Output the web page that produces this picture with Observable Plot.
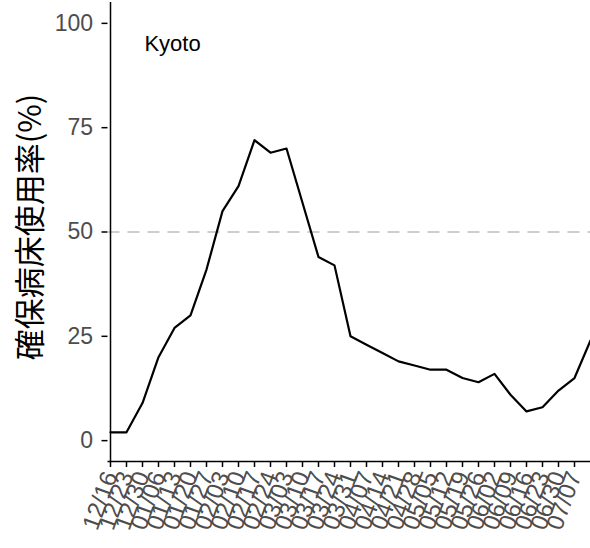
<!DOCTYPE html>
<html>
<head>
<meta charset="utf-8">
<script src="https://cdn.jsdelivr.net/npm/d3@7"></script>
<script src="https://cdn.jsdelivr.net/npm/@observablehq/plot@0.6"></script>
<style>
  html, body { margin: 0; padding: 0; overflow: hidden; background: white; }
  #chart svg { overflow: hidden; }
  #chart [aria-label^="x-axis"] text,
  #chart [aria-label^="y-axis"] text {
    font-family: "Liberation Sans", Arial, sans-serif;
    font-size: 23px;
    fill: #4D4D4D;
  }
  #chart [aria-label^="x-axis"] text { font-size: 24px; }
  #chart [aria-label^="x-axis"] path, #chart [aria-label^="x-axis"] line,
  #chart [aria-label^="y-axis"] path, #chart [aria-label^="y-axis"] line {
    stroke: #000;
    stroke-width: 1.5;
  }
</style>
</head>
<body>
<div id="chart"></div>
<script>
// ---- data ----
const dates = ["12/16","12/23","12/30","01/06","01/13","01/20","01/27","02/03","02/10","02/17",
               "02/24","03/03","03/10","03/17","03/24","03/31","04/07","04/14","04/21","04/28",
               "05/05","05/12","05/19","05/26","06/02","06/09","06/16","06/23","06/30","07/07","07/14"];
const usage = [2, 2, 9, 20, 27, 30, 41, 55, 61, 72,
               69, 70, 57, 44, 42, 25, 23, 21, 19, 18,
               17, 17, 15, 14, 16, 11, 7, 8, 12, 15, 24];
const tickDates = dates.slice(0, 30);   // the last date falls on the cropped edge
const yTicks = [0, 25, 50, 75, 100];
const yDomain = [-5, 105];
const threshold = [50];
const prefecture = "Kyoto";
const labelDate = ["01/06"];   // annotation placement (category)
const labelY = [95];
const yTitle = "確保病床使用率(%)";

const rows = dates.map((d, i) => ({date: d, value: usage[i]}));

const plot = Plot.plot({
  width: 590,
  height: 548,
  marginLeft: 107.5,
  marginRight: 0,
  marginTop: 2,
  marginBottom: 87,
  style: {background: "white", color: "black", fontFamily: "'Liberation Sans', Arial, sans-serif"},
  x: {type: "point", domain: dates, range: [107.5, 591.5], padding: 0, ticks: tickDates,
      tickSize: 6, tickPadding: 5, tickRotate: -70, label: null},
  y: {domain: yDomain, ticks: yTicks, tickSize: 6, tickPadding: 9, label: null},
  marks: [
    Plot.ruleY(threshold, {stroke: "#BEBEBE", strokeWidth: 1.5, strokeDasharray: "12,8"}),
    Plot.line(rows, {x: "date", y: "value", stroke: "black", strokeWidth: 2.2}),
    Plot.ruleY([yDomain[0]], {stroke: "black", strokeWidth: 1.5}),
    Plot.ruleX([dates[0]], {stroke: "black", strokeWidth: 1.5}),
    Plot.text([prefecture], {x: () => labelDate[0], dx: 14, y: () => labelY[0], text: d => d,
      fontSize: 22, fill: "black", fontFamily: "'Liberation Sans', Arial, sans-serif"})
  ]
});

const svg = d3.select(plot);
svg.append("text")
  .attr("transform", "translate(27,227) rotate(-90)")
  .attr("text-anchor", "middle")
  .attr("dominant-baseline", "central")
  .attr("font-family", "'Noto Sans CJK JP', sans-serif")
  .attr("font-size", 31)
  .attr("fill", "black")
  .text(yTitle);

document.getElementById("chart").appendChild(plot);
</script>
</body>
</html>
